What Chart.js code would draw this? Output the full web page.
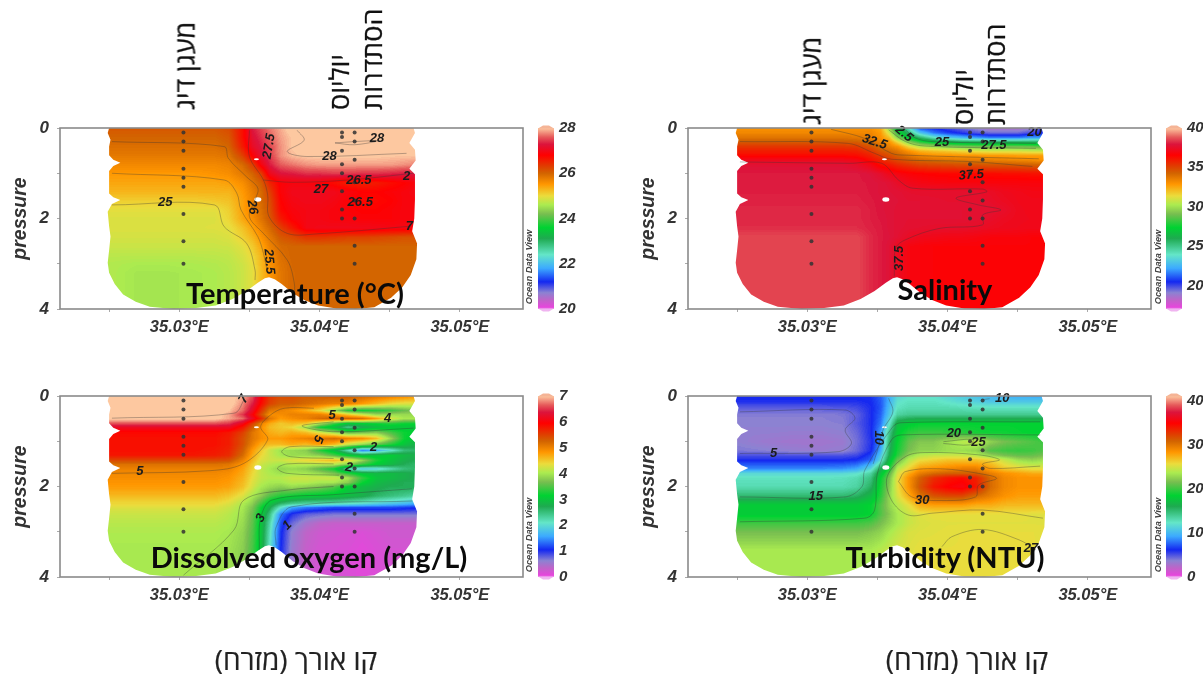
<!DOCTYPE html>
<html>
<head>
<meta charset="utf-8">
<title>CTD sections</title>
<script src="https://cdn.jsdelivr.net/npm/chart.js@4"></script>
<style>
    html, body { margin: 0; padding: 0; background: #fff; overflow: hidden; }
    #page { position: relative; width: 1203px; height: 674px; overflow: hidden; filter: blur(0.45px); }
    #page canvas { position: absolute; }
    .txt { position: absolute; white-space: nowrap; transform: translate(-50%, -50%); }
    .title { font: 700 29px Lato, "Open Sans", sans-serif; color: #0a0a0a; }
    .place { font: 400 27px "Open Sans", "DejaVu Sans", sans-serif; color: #111; -webkit-text-stroke: 0.3px #111; transform: rotate(-90deg) translateY(-50%); transform-origin: 0 0; }
    .lonlabel { font: 400 28px "Open Sans", "DejaVu Sans", sans-serif; color: #222; -webkit-text-stroke: 0.2px #222; }
    .odv { font: italic 700 9.3px "Liberation Sans", sans-serif; color: #444; transform: translate(-50%, -50%) rotate(-90deg); }
</style>
</head>
<body>
<div id="page"></div>
<script>
// x axis unit: thousandths of a degree past 35°E
const lonTicks = [25, 30, 35, 40, 45, 50];
const depthTicks = [0, 1, 2, 3, 4];

const gridLons = [25, 27, 29, 31, 32.5, 33.5, 34.5, 35.2, 35.8, 36.4, 37.2, 38, 39, 40, 41, 42, 43, 44, 45, 46, 46.8];

// Sample stations: [lon, depth]
const stations = [
    [30.3, 0.1], [30.3, 0.3], [30.3, 0.5], [30.3, 0.9], [30.3, 1.1], [30.3, 1.3], [30.3, 1.9], [30.3, 2.5], [30.3, 3.0],
    [41.6, 0.1], [41.6, 0.2], [41.6, 0.5], [41.6, 0.8], [41.6, 1.0], [41.6, 1.4], [41.6, 1.8], [41.6, 2.0],
    [42.5, 0.1], [42.5, 0.3], [42.5, 0.7], [42.5, 1.2], [42.5, 1.6], [42.5, 2.0], [42.5, 2.6], [42.5, 3.0]
];

// Outline of the gridded area, same for all four sections
const outline = [
    [25.0, 0], [24.9, 0.11], [25.1, 0.26], [25.0, 0.41], [25.0, 0.6], [25.3, 0.7], [25.8, 0.77], [25.3, 0.84], [25.0, 0.95], [25.0, 1.45], [25.3, 1.53], [25.8, 1.59],
    [25.2, 1.68], [24.9, 1.85], [25.0, 2.17], [25.1, 2.4], [25.0, 2.7], [24.9, 2.98], [25.0, 3.2], [25.4, 3.45], [26.0, 3.68], [26.9, 3.84], [27.9, 3.95], [29.6, 4],
    [31.2, 3.98], [32.6, 3.92], [33.8, 3.78], [34.8, 3.6], [35.6, 3.42], [36.1, 3.32], [36.4, 3.3], [36.8, 3.34], [37.3, 3.45], [38.1, 3.65], [38.9, 3.8], [39.9, 3.92], [41.2, 3.99], [42.6, 4],
    [43.9, 3.96], [45.1, 3.75], [45.9, 3.52], [46.5, 3.25], [46.9, 2.9], [46.95, 2.55], [46.6, 2.28], [46.75, 2], [46.8, 1.58], [46.8, 1.02], [46.4, 0.9], [46.85, 0.72], [46.8, 0.48],
    [46.4, 0.33], [46.8, 0.11], [46.7, 0]
];
const holes = [[35.5, 0.69, 2.5, 1], [35.6, 1.58, 3.5, 2.2]];

// Palette stops of the colour bar: [position 0..1, r, g, b]
const paletteStops = [
    [0, 235, 130, 232], [0.01, 230, 70, 220], [0.05, 190, 100, 200], [0.09, 140, 130, 210], [0.15, 20, 40, 240],
    [0.225, 60, 170, 255], [0.30, 100, 230, 200], [0.39, 30, 170, 80], [0.45, 0, 210, 50], [0.525, 120, 190, 80],
    [0.575, 170, 235, 80], [0.625, 235, 220, 60], [0.69, 255, 150, 0], [0.75, 210, 100, 0], [0.79, 225, 60, 0],
    [0.85, 255, 0, 0], [0.91, 220, 20, 60], [0.95, 230, 90, 90], [1, 253, 200, 160]
];

//#region --- Temperature ---
const tempDepths = [0, 0.2, 0.4, 0.6, 0.8, 1, 1.2, 1.4, 1.6, 1.8, 2, 2.2, 2.4, 2.6, 2.8, 3, 3.2, 3.4, 3.6, 3.8, 4];
const tempGrid = [
    [26.1, 26.1, 26.1, 26.1, 26.1, 26.2, 26.7, 27.3, 27.5, 27.7, 27.9, 28.1, 28.2, 28.2, 28.2, 28.2, 28.2, 28.2, 28.2, 28.2, 28.2],
    [26, 26, 26, 26, 26, 26.1, 26.7, 27.2, 27.4, 27.6, 27.85, 28, 28.15, 28.2, 28.2, 28.25, 28.25, 28.25, 28.2, 28.2, 28.2],
    [25.9, 25.9, 25.9, 25.9, 25.9, 26, 26.6, 27.1, 27.3, 27.5, 27.8, 28, 28.1, 28.15, 28.15, 28.15, 28.15, 28.15, 28.15, 28.15, 28.1],
    [25.8, 25.8, 25.8, 25.8, 25.8, 25.85, 26.3, 26.85, 27.2, 27.45, 27.8, 27.95, 28.02, 28.03, 28.03, 28.03, 28.03, 28.03, 28, 28, 28],
    [25.65, 25.65, 25.65, 25.65, 25.65, 25.7, 25.95, 26.3, 26.9, 27.3, 27.6, 27.7, 27.8, 27.85, 27.85, 27.85, 27.85, 27.85, 27.85, 27.8, 27.75],
    [25.5, 25.5, 25.5, 25.5, 25.55, 25.6, 25.8, 26, 26.3, 27, 27.25, 27.3, 27.4, 27.4, 27.45, 27.45, 27.4, 27.4, 27.35, 27.3, 27.3],
    [25.4, 25.4, 25.4, 25.4, 25.4, 25.45, 25.6, 25.85, 26.05, 26.5, 26.85, 26.9, 26.9, 26.85, 26.7, 26.55, 26.55, 26.6, 26.7, 26.8, 26.9],
    [25.3, 25.3, 25.3, 25.3, 25.3, 25.3, 25.5, 25.75, 25.95, 26.3, 26.85, 27, 27, 27.05, 27, 26.9, 26.8, 26.8, 26.85, 26.9, 26.95],
    [25.1, 25.1, 25.1, 25.1, 25.15, 25.2, 25.45, 25.7, 25.95, 26.2, 26.8, 26.95, 27, 27, 26.95, 26.85, 26.75, 26.75, 26.8, 26.9, 26.9],
    [24.95, 24.95, 24.95, 24.95, 24.95, 25.1, 25.45, 25.7, 25.9, 26.15, 26.75, 26.9, 26.95, 26.95, 26.9, 26.85, 26.8, 26.8, 26.85, 26.9, 26.9],
    [24.9, 24.9, 24.9, 24.9, 24.9, 25.05, 25.4, 25.6, 25.85, 26.1, 26.6, 26.85, 26.95, 26.95, 26.9, 26.9, 26.85, 26.85, 26.85, 26.9, 26.9],
    [24.9, 24.9, 24.9, 24.9, 24.92, 24.95, 25.2, 25.45, 25.7, 25.95, 26.3, 26.6, 26.95, 27, 27, 27, 27, 26.98, 26.95, 26.95, 26.9],
    [24.85, 24.85, 24.85, 24.85, 24.85, 24.9, 25.1, 25.3, 25.55, 25.8, 26.1, 26.2, 26.4, 26.4, 26.35, 26.3, 26.3, 26.25, 26.2, 26.15, 26.15],
    [24.8, 24.8, 24.8, 24.8, 24.8, 24.82, 24.95, 25.15, 25.4, 25.7, 25.95, 26, 26, 26, 26, 26, 26, 26, 26, 26, 26],
    [24.7, 24.7, 24.7, 24.7, 24.72, 24.75, 24.88, 25.05, 25.3, 25.6, 25.9, 26, 26, 26, 26, 26, 26, 26, 26, 26, 26],
    [24.65, 24.6, 24.6, 24.62, 24.65, 24.7, 24.82, 24.98, 25.25, 25.55, 25.85, 25.98, 26, 26, 26, 26, 26, 26, 26, 26, 26],
    [24.65, 24.55, 24.55, 24.58, 24.62, 24.68, 24.8, 24.95, 25.22, 25.52, 25.82, 25.97, 26, 26, 26, 26, 26, 26, 26, 26, 26],
    [24.65, 24.55, 24.55, 24.58, 24.62, 24.68, 24.8, 24.95, 25.22, 25.52, 25.82, 25.97, 26, 26, 26, 26, 26, 26, 26, 26, 26],
    [24.65, 24.55, 24.55, 24.58, 24.62, 24.68, 24.8, 24.95, 25.22, 25.52, 25.82, 25.97, 26, 26, 26, 26, 26, 26, 26, 26, 26],
    [24.65, 24.55, 24.55, 24.58, 24.62, 24.68, 24.8, 24.95, 25.22, 25.52, 25.82, 25.97, 26, 26, 26, 26, 26, 26, 26, 26, 26],
    [24.65, 24.55, 24.55, 24.58, 24.62, 24.68, 24.8, 24.95, 25.22, 25.52, 25.82, 25.97, 26, 26, 26, 26, 26, 26, 26, 26, 26]
];
const tempContours = [
    [[25.2, 0.3], [33.2, 0.41], [33.5, 0.67], [34.8, 1.08], [35.6, 1.33], [35.4, 1.59], [35, 1.96], [36, 2.33], [37.7, 2.92], [38.2, 3.43], [38.2, 3.7]],
    [[25.2, 1], [33.2, 1.15], [34.1, 1.44], [34.4, 1.81], [35.6, 2.4], [36, 2.77], [36.3, 3.21]],
    [[25.2, 1.7], [32.5, 1.7], [33.2, 2.18], [34.8, 2.55], [35.4, 3.14], [35.4, 3.36]],
    [[35, 0.05], [35, 0.63], [36, 1.15], [36.3, 1.48], [36.4, 1.96], [37.7, 2.33], [39.8, 2.34], [46.5, 2.17]],
    [[36, 1.15], [38, 1.2], [42, 1.15], [46.7, 1]],
    [[38.4, 0.05], [38.9, 0.27], [37.7, 0.52], [39.1, 0.63], [46.2, 0.56]],
    [[41.1, 0.33], [42.5, 0.3], [44.2, 0.28], [42.5, 0.37], [41.1, 0.33]]
];
const tempLabels = [
    ["25", 29, 1.65, 0], ["26", 35.2, 1.75, 80], ["25.5", 36.4, 2.95, 85], ["27.5", 36.4, 0.4, -80], ["28", 44.1, 0.24, 0],
    ["28", 40.7, 0.63, 0], ["26.5", 42.8, 1.15, 0], ["27", 40.1, 1.35, 0], ["26.5", 42.9, 1.65, 0], ["2", 46.2, 1.07, 0], ["7", 46.4, 2.17, 0]
];
//#endregion

//#region --- Salinity ---
const salDepths = [0, 0.1, 0.2, 0.3, 0.4, 0.5, 0.6, 0.7, 0.8, 1, 1.2, 1.4, 1.6, 1.8, 2, 2.2, 2.4, 2.6, 3, 4];
const salGrid = [
    [33, 33, 33, 33, 33, 33, 33, 32.5, 30, 27, 24, 21, 20.5, 20, 19.5, 19, 18.5, 18.5, 18.5, 19, 20],
    [33.3, 33.3, 33.3, 33.3, 33.3, 33.3, 33.3, 32.8, 31, 28, 25.5, 23, 21.5, 20.8, 20.3, 19.8, 19.5, 19.5, 19.5, 20, 20.5],
    [33.8, 33.8, 33.8, 33.8, 33.8, 33.7, 33.5, 33, 32, 29.5, 27, 25.5, 24, 23, 22.5, 22, 21.5, 21.5, 21.5, 22, 22],
    [34.5, 34.5, 34.5, 34.5, 34.5, 34.4, 34, 33.5, 33, 31.5, 29.5, 28, 27, 26.5, 26, 26, 25.8, 25.8, 25.8, 25.8, 25.8],
    [35.3, 35.3, 35.3, 35.3, 35.3, 35.2, 34.6, 34, 33.5, 33, 31.5, 30.5, 30, 29.5, 29.2, 29, 29, 29, 29, 28.8, 28.5],
    [35.9, 35.9, 35.9, 35.9, 35.9, 35.8, 35.3, 34.6, 34.2, 33.8, 33, 32.3, 32, 31.8, 31.5, 31.2, 31, 31, 31, 30.8, 30.8],
    [36.4, 36.4, 36.4, 36.4, 36.4, 36.3, 35.8, 35.2, 34.8, 34.3, 33.8, 33.3, 33, 33, 32.9, 32.9, 32.8, 32.8, 32.7, 32.7, 32.7],
    [37.2, 37.2, 37.2, 37.2, 37.2, 37, 36.3, 35.8, 35.3, 34.9, 34.5, 34.2, 34, 33.8, 33.7, 33.6, 33.5, 33.4, 33.3, 33.2, 33],
    [37.7, 37.7, 37.7, 37.7, 37.7, 37.5, 37, 36.3, 36, 35.6, 35.3, 35, 34.9, 34.8, 34.7, 34.6, 34.5, 34.5, 34.4, 34.3, 34.2],
    [38, 38, 38, 38, 38, 38, 37.85, 37.55, 37.15, 36.9, 36.7, 36.6, 36.5, 36.45, 36.4, 36.4, 36.35, 36.3, 36.3, 36.2, 36.2],
    [38, 38, 38, 38, 38, 38, 37.95, 37.85, 37.75, 37.45, 37.15, 37, 36.9, 36.85, 36.85, 36.85, 36.8, 36.8, 36.8, 36.8, 36.8],
    [38.05, 38.05, 38.05, 38.05, 38.05, 38.05, 37.95, 37.85, 37.8, 37.75, 37.6, 37.55, 37.55, 37.55, 37.55, 37.55, 37.4, 37.2, 37.1, 37, 37],
    [38.1, 38.1, 38.1, 38.1, 38.1, 38.1, 38, 37.9, 37.85, 37.8, 37.7, 37.7, 37.65, 37.6, 37.6, 37.6, 37.5, 37.3, 37.15, 37.1, 37.1],
    [38.2, 38.2, 38.2, 38.2, 38.2, 38.2, 38.05, 37.9, 37.85, 37.75, 37.7, 37.7, 37.7, 37.7, 37.7, 37.7, 37.65, 37.5, 37.2, 37.1, 37.1],
    [38.2, 38.2, 38.2, 38.2, 38.2, 38.2, 38.05, 37.95, 37.85, 37.75, 37.7, 37.7, 37.7, 37.7, 37.7, 37.65, 37.5, 37.3, 37.2, 37.15, 37.1],
    [38.25, 38.25, 38.25, 38.25, 38.25, 38.25, 38.1, 38, 37.85, 37.75, 37.65, 37.6, 37.55, 37.55, 37.5, 37.45, 37.3, 37.2, 37.15, 37.1, 37.1],
    [38.6, 38.6, 38.6, 38.6, 38.6, 38.6, 38.2, 38, 37.9, 37.7, 37.4, 37.2, 37.1, 37, 37, 36.9, 36.8, 36.8, 36.8, 36.7, 36.7],
    [38.6, 38.6, 38.6, 38.6, 38.6, 38.6, 38.2, 38, 37.8, 37.3, 36.9, 36.8, 36.7, 36.7, 36.7, 36.7, 36.7, 36.7, 36.7, 36.7, 36.7],
    [38.6, 38.6, 38.6, 38.6, 38.6, 38.6, 38.2, 38, 37.8, 37.3, 36.9, 36.8, 36.7, 36.7, 36.7, 36.7, 36.7, 36.7, 36.7, 36.7, 36.7],
    [38.6, 38.6, 38.6, 38.6, 38.6, 38.6, 38.2, 38, 37.8, 37.3, 36.9, 36.8, 36.7, 36.7, 36.7, 36.7, 36.7, 36.7, 36.7, 36.7, 36.7]
];
const salContours = [
    [[25.2, 0.3], [32.9, 0.34], [34.8, 0.56], [36, 0.69], [41.5, 0.74], [46.05, 0.85]],
    [[31.7, 0.03], [34.1, 0.23], [36, 0.56], [37, 0.6], [46.5, 0.68]],
    [[35.8, 0.04], [37, 0.3], [38.4, 0.4], [46.3, 0.45]],
    [[37, 0.04], [37.7, 0.22], [38.9, 0.3], [46.3, 0.34]],
    [[25.2, 0.75], [33, 0.78], [35.3, 0.78], [36.5, 1.15], [37.5, 1.33], [42.5, 1.35], [42.8, 1.41], [40.6, 1.55], [42.2, 1.7], [43.8, 1.81], [42.5, 1.92], [42.5, 2.14], [39.4, 2.22], [37, 2.47], [36.3, 2.66], [36.2, 3.28]]
];
const salLabels = [
    ["2.5", 36.9, 0.13, 40], ["32.5", 34.8, 0.31, 18], ["25", 39.6, 0.31, 0], ["27.5", 43.3, 0.39, 0], ["20", 46.2, 0.1, 0],
    ["37.5", 41.7, 1.04, -5], ["37.5", 36.6, 2.88, -90]
];
//#endregion

//#region --- Dissolved oxygen ---
const oxyDepths = [0, 0.16, 0.31, 0.4, 0.49, 0.6, 0.68, 0.8, 0.93, 1.06, 1.19, 1.3, 1.41, 1.5, 1.6, 1.7, 1.8, 1.9, 2, 2.2, 2.37, 2.45, 2.6, 2.8, 3, 3.4, 4];
const oxyGrid = [
    [7.2, 7.2, 7.2, 7.2, 7.2, 7.1, 6.9, 6.6, 6, 5.6, 5.4, 5.4, 5.3, 5.3, 5.3, 5.3, 5.2, 5.1, 5, 4.9, 4.8],
    [7.2, 7.2, 7.2, 7.2, 7.2, 7.1, 6.8, 6.4, 5.9, 5.5, 5.3, 5.3, 5.2, 5.1, 5, 5, 4.8, 4.6, 4.4, 4.3, 4.3],
    [7.2, 7.2, 7.2, 7.2, 7.15, 7, 6.7, 6.2, 5.6, 5.1, 5, 4.9, 4.7, 4.4, 3.9, 3.3, 3.2, 3.3, 3.4, 3.6, 3.7],
    [7.2, 7.2, 7.2, 7.2, 7.1, 6.9, 6.5, 6, 5.4, 4.9, 4.9, 5, 5, 5, 4.8, 4.5, 4.2, 3.9, 3.9, 3.9, 3.9],
    [7.05, 7.05, 7.05, 7.05, 7.05, 6.9, 6.7, 6.2, 5.7, 5.1, 4.8, 4.9, 5, 5.2, 5.3, 5.3, 5.2, 4.8, 4.3, 4, 4],
    [6.6, 6.6, 6.6, 6.6, 6.6, 6.5, 6.1, 5.5, 5, 4.7, 4.5, 4.6, 4.5, 4, 3.4, 3, 3.1, 3.2, 3.3, 3.2, 3.2],
    [6.2, 6.2, 6.2, 6.2, 6.2, 6.2, 5.8, 5.3, 4.9, 4.6, 4.5, 4.4, 4, 3.2, 2.9, 2.4, 2.7, 2.9, 3, 3, 3],
    [5.9, 5.9, 5.9, 5.9, 5.9, 5.8, 5.5, 5.1, 4.9, 4.7, 4.6, 4.7, 4.6, 4.3, 4, 3.6, 3.7, 3.8, 3.5, 3.2, 3.1],
    [5.85, 5.85, 5.85, 5.85, 5.85, 5.75, 5.4, 5.1, 4.9, 4.8, 4.8, 4.9, 5, 5.1, 5.2, 5, 4.9, 4.6, 3.9, 3.2, 3],
    [5.85, 5.85, 5.85, 5.85, 5.85, 5.75, 5.4, 5, 4.7, 4.6, 4.6, 4.7, 4.6, 4.8, 4.6, 4.2, 3.9, 3.6, 3.3, 3, 2.8],
    [5.85, 5.85, 5.85, 5.85, 5.8, 5.7, 5.3, 4.8, 4.5, 4.2, 3.95, 3.9, 3.8, 3.3, 2.9, 2.2, 1.4, 1.6, 2, 2.5, 2.6],
    [5.8, 5.8, 5.8, 5.8, 5.75, 5.65, 5.2, 4.7, 4.4, 4.2, 4, 3.9, 3.9, 3.8, 3.5, 3.1, 2.9, 3, 3.1, 2.9, 2.8],
    [5.45, 5.45, 5.45, 5.45, 5.45, 5.4, 5, 4.6, 4.3, 4.2, 4.2, 4.3, 4.4, 4.5, 4.6, 4.4, 3.9, 3.3, 3, 2.8, 2.7],
    [5.15, 5.15, 5.15, 5.15, 5.15, 5.1, 4.85, 4.5, 4.2, 4.1, 4, 4.1, 4.1, 4.1, 4.1, 3.8, 3.4, 3.1, 2.9, 2.7, 2.6],
    [5, 5, 5, 5, 5, 5, 4.75, 4.45, 4.15, 4, 3.85, 3.9, 3.8, 3.5, 3.2, 2.2, 1.8, 1.9, 2.2, 2.5, 2.6],
    [4.95, 4.95, 4.95, 4.95, 4.95, 4.9, 4.7, 4.4, 4.15, 4.05, 3.95, 4, 4, 3.9, 3.7, 3.3, 3, 2.9, 2.9, 2.8, 2.7],
    [4.9, 4.9, 4.9, 4.9, 4.9, 4.85, 4.65, 4.35, 4.15, 4.1, 4.1, 4.2, 4.2, 4.2, 4.2, 4, 3.4, 3, 2.9, 2.8, 2.7],
    [4.85, 4.85, 4.85, 4.85, 4.85, 4.8, 4.6, 4.3, 4.1, 4, 4, 4.1, 4.1, 4, 4, 3.8, 3.2, 2.9, 2.8, 2.7, 2.7],
    [4.8, 4.8, 4.8, 4.8, 4.8, 4.75, 4.55, 4.25, 4, 3.9, 3.8, 3.9, 3.8, 3.7, 3.5, 3.1, 2.9, 2.8, 2.7, 2.7, 2.7],
    [4.6, 4.6, 4.6, 4.6, 4.6, 4.5, 4.3, 4, 3.8, 3.5, 3.3, 3.2, 3.1, 3.05, 3, 2.9, 2.8, 2.6, 2.5, 2.4, 2.3],
    [4.4, 4.4, 4.4, 4.4, 4.4, 4.3, 4.05, 3.8, 3.4, 3, 2.6, 2.4, 2.3, 2.25, 2.2, 2.1, 2, 1.9, 1.8, 1.7, 1.6],
    [4.3, 4.3, 4.3, 4.3, 4.3, 4.2, 4, 3.7, 3.2, 2.8, 2.1, 1.6, 1.4, 1.3, 1.2, 1.2, 1.2, 1.2, 1.2, 1.15, 1.1],
    [4.2, 4.2, 4.2, 4.2, 4.2, 4.1, 3.95, 3.6, 3.1, 2.5, 1.4, 1, 0.8, 0.75, 0.7, 0.7, 0.7, 0.7, 0.7, 0.7, 0.7],
    [4.1, 4.1, 4.1, 4.1, 4.1, 4.05, 3.9, 3.55, 3, 2.3, 1.2, 0.75, 0.5, 0.35, 0.3, 0.3, 0.3, 0.3, 0.3, 0.3, 0.3],
    [4.05, 4.05, 4.05, 4.05, 4.05, 4, 3.85, 3.5, 3, 2.2, 1.1, 0.6, 0.35, 0.25, 0.22, 0.2, 0.15, 0.2, 0.25, 0.25, 0.25],
    [4, 4, 4, 4, 4, 3.95, 3.8, 3.45, 2.95, 2.1, 1.05, 0.55, 0.3, 0.2, 0.18, 0.15, 0.1, 0.15, 0.2, 0.2, 0.2],
    [4, 4, 4, 4, 4, 3.95, 3.8, 3.45, 2.95, 2.1, 1.05, 0.55, 0.3, 0.2, 0.18, 0.15, 0.1, 0.15, 0.2, 0.2, 0.2]
];
const oxyContours = [
    [[25.2, 1.71], [32.2, 1.65], [34.6, 1.49], [36.3, 0.97], [35.8, 0.68], [36.5, 0.42], [37.5, 0.27], [39.6, 0.27]],
    [[25.2, 0.49], [33.9, 0.38], [34.6, 0.09], [34.6, 0.02]],
    [[30.3, 3.96], [33.9, 2.96], [34.6, 2.3], [37.7, 2.08], [41, 2]],
    [[41, 1.12], [37.9, 1.12], [37.3, 1.23], [37.9, 1.34], [41, 1.38]],
    [[41, 1.5], [37.7, 1.5], [37, 1.6], [37.7, 1.71], [41.4, 1.75]],
    [[41, 0.57], [38.75, 0.66], [41, 0.79], [46.7, 0.71]],
    [[35.7, 3.4], [35.8, 2.7], [36.6, 2.3], [41, 2.18], [46.6, 2.05]],
    [[36.9, 3.3], [36.9, 2.9], [38, 2.45], [46.6, 2.32]]
];
const oxyLabels = [
    ["7", 34.6, 0.07, -60], ["5", 27.2, 1.67, 0], ["5", 40.9, 0.43, 0], ["4", 44.85, 0.49, 0], ["5", 39.9, 0.95, 110],
    ["2", 43.85, 1.14, 0], ["2", 42.1, 1.58, 10], ["3", 35.8, 2.7, -60], ["1", 37.7, 2.86, -45]
];
//#endregion

//#region --- Turbidity ---
const turbDepths = [0, 0.1, 0.25, 0.4, 0.6, 0.8, 1, 1.2, 1.3, 1.4, 1.6, 1.7, 1.8, 2, 2.2, 2.4, 2.6, 2.8, 3, 3.4, 4];
const turbGrid = [
    [6.2, 6.2, 6.2, 6.2, 6.2, 6.2, 6.4, 7.5, 9.5, 11.5, 12, 12, 12, 11.5, 11, 10.5, 10, 9.8, 9.6, 9.5, 9.5],
    [6, 6, 6, 6, 6, 6, 6.2, 7.3, 9.5, 12, 12.5, 12.5, 12.5, 12, 11.5, 11, 10.5, 10.5, 10.5, 10.5, 10.5],
    [4.8, 4.8, 4.8, 4.8, 4.9, 5.2, 6, 7.2, 10, 12.5, 13, 13, 13, 13, 12.8, 12.6, 12.5, 12.5, 12.5, 12.5, 12.5],
    [3.8, 3.8, 3.8, 3.8, 4, 4.6, 6, 7.5, 10.5, 13.5, 14, 14, 14, 14, 14, 14, 14, 14, 14, 14, 14],
    [3.7, 3.7, 3.7, 3.7, 3.8, 4.8, 6, 8, 12, 17, 18, 18.5, 18.5, 18.5, 18.5, 18.5, 18.5, 18.5, 18.5, 18.5, 18.5],
    [3.5, 3.5, 3.4, 3.4, 3.6, 4.4, 6, 9, 14, 18, 19.5, 20, 20, 19.8, 19.5, 19, 18.8, 18.8, 18.6, 18.5, 18.5],
    [3.6, 3.2, 3, 3, 3.2, 4.2, 5.8, 8.5, 15, 18.5, 21, 22, 22, 23, 24, 24.5, 22.5, 21.5, 21, 20.5, 20],
    [4, 3.8, 3.5, 3.3, 3.5, 4.4, 6, 9.5, 15.5, 19, 21.5, 22.5, 22.5, 23, 23, 22.5, 20.5, 20, 19.8, 20, 20.5],
    [5, 5, 5, 5, 5, 5.3, 6.8, 10.5, 16, 19.5, 22.5, 24, 24.5, 24.5, 24.5, 24, 22.5, 21.5, 21, 21, 21.5],
    [6, 6, 6, 6, 6, 6.3, 7.5, 11.5, 17, 21, 24, 25.5, 26, 26.5, 26.5, 26.5, 26, 24.5, 23, 22.5, 23],
    [8.5, 8.5, 8.5, 8.5, 8.7, 9.3, 11.5, 16, 19, 24, 26, 28, 28.5, 29, 29.5, 29.5, 28, 26.5, 26, 25.5, 25.5],
    [11.5, 11.5, 11.5, 11.5, 11.6, 12, 13.5, 17.5, 20.5, 25, 27.5, 29.5, 30.5, 31, 31, 31, 29.5, 28.5, 28, 27.5, 27.5],
    [12.5, 12.5, 12.5, 12.5, 12.6, 13, 14.5, 18.5, 21.5, 25.5, 28.5, 31, 33, 34, 34.5, 33.5, 30.5, 29, 28.5, 28.5, 28.5],
    [13, 13, 13, 13, 13, 13.5, 15.5, 19, 22, 25.5, 28.5, 31.5, 34, 35, 35.5, 34, 30.5, 29, 28.5, 28.5, 28.5],
    [15, 15, 15, 15, 15, 15.5, 17, 19.5, 22.5, 25, 27.5, 30, 31.5, 32, 32, 30.5, 29.5, 28.5, 28, 28, 28],
    [18, 18, 18, 18, 18, 18, 18.5, 20.5, 22.5, 24, 25.5, 27.5, 28, 28, 28, 27.5, 27.5, 27, 27, 27, 27],
    [18, 18, 18, 18, 18, 18, 18.5, 20.5, 22, 23.5, 24.5, 25.2, 25.5, 25.5, 25.5, 25.5, 25.5, 25.5, 25.5, 25.3, 25.2],
    [20, 20, 20, 20, 20, 20, 20.5, 21.5, 22.5, 23.5, 24.5, 25, 25.2, 25.3, 25.3, 25.3, 25.3, 25.3, 25.3, 25.3, 25.3],
    [21.5, 21.5, 21.5, 21.5, 21.5, 21.5, 22, 22.5, 23.5, 24.2, 25, 25.2, 25.3, 25.4, 25.5, 25.5, 25.5, 25.5, 25.5, 25.5, 25.4],
    [23.5, 23.5, 23.5, 23.5, 23.5, 23.5, 23.5, 24, 24.5, 25, 25.2, 25.5, 25.5, 25.5, 25.5, 25.5, 25.5, 25.5, 25.5, 25.5, 25.5],
    [23.5, 23.5, 23.5, 23.5, 23.5, 23.5, 23.5, 24, 24.5, 25, 25.2, 25.5, 25.5, 25.5, 25.5, 25.5, 25.5, 25.5, 25.5, 25.5, 25.5]
];
const turbContours = [
    [[25.2, 0.35], [32.7, 0.31], [33.4, 0.49], [32.7, 0.75], [33.15, 1.05], [32.2, 1.23], [25.2, 1.27]],
    [[35.8, 0.05], [36.1, 0.35], [35.4, 0.75], [35, 1.2], [34.7, 1.5]],
    [[25.2, 2.23], [32.7, 2.23], [33.9, 2], [34.1, 1.64], [36.1, 0.68], [36.7, 0.59], [46.6, 0.57]],
    [[25.2, 2.78], [34.1, 2.7], [34.8, 2.52], [35, 1.71], [36, 0.97], [36.7, 0.86], [46.6, 0.86]],
    [[46.6, 1.55], [43, 1.6], [42.5, 1.5], [43.7, 1.41], [42.2, 1.3], [38.4, 1.25], [37, 1.34], [35.7, 1.78], [36, 2.3], [37.2, 2.63], [38.9, 2.59], [42.5, 2.52], [46.8, 2.7]],
    [[36.5, 1.89], [37, 1.67], [39.6, 1.61], [42.2, 1.71], [43.5, 1.82], [42.2, 1.97], [42, 2.23], [39.6, 2.31], [37.45, 2.23], [36.5, 1.89]],
    [[39.7, 1.01], [41.8, 0.96], [41.6, 1.08], [39.7, 1.05]],
    [[39.6, 3.33], [40.3, 3.11], [42.5, 2.95], [45.1, 3.18], [46.3, 3.4]],
    [[42.5, 0.08], [43, 0.06]]
];
const turbLabels = [
    ["10", 43.9, 0.05, 0], ["10", 35.1, 0.92, 90], ["5", 27.6, 1.27, 0], ["20", 40.45, 0.82, 0], ["25", 42.2, 1.03, 0],
    ["15", 30.6, 2.21, 0], ["30", 38.2, 2.31, 0], ["27", 45.95, 3.37, 0]
];
//#endregion

function buildPalette() {
    const lut = [];
    for (let i = 0; i <= 255; i++) {
        const t = i / 255;
        let k = 0;
        while (k < paletteStops.length - 2 && paletteStops[k + 1][0] < t) k++;
        const a = paletteStops[k], b = paletteStops[k + 1];
        const f = Math.min(1, Math.max(0, (t - a[0]) / (b[0] - a[0])));
        lut.push([a[1] + (b[1] - a[1]) * f, a[2] + (b[2] - a[2]) * f, a[3] + (b[3] - a[3]) * f]);
    }
    return lut;
}
const paletteLut = buildPalette();

function findCell(nodes, v) {
    let i = 0;
    while (i < nodes.length - 2 && nodes[i + 1] < v) i++;
    const f = Math.min(1, Math.max(0, (v - nodes[i]) / (nodes[i + 1] - nodes[i])));
    return [i, f];
}

// Paints the gridded section under the stations, through the chart's scales
const fieldPlugin = {
    id: "field",
    beforeDatasetsDraw(chart, args, opts) {
        const { ctx, chartArea: area, scales } = chart;
        const left = Math.round(area.left), top = Math.round(area.top);
        const w = Math.round(area.right - area.left), h = Math.round(area.bottom - area.top);
        const off = document.createElement("canvas");
        off.width = w; off.height = h;
        const octx = off.getContext("2d");
        const img = octx.createImageData(w, h);
        for (let py = 0; py < h; py++) {
            const [r, fr] = findCell(opts.depths, scales.y.getValueForPixel(top + py));
            for (let px = 0; px < w; px++) {
                const [c, fc] = findCell(gridLons, scales.x.getValueForPixel(left + px));
                const g = opts.grid;
                const v = (g[r][c] * (1 - fc) + g[r][c + 1] * fc) * (1 - fr) + (g[r + 1][c] * (1 - fc) + g[r + 1][c + 1] * fc) * fr;
                const t = Math.min(1, Math.max(0, (v - opts.vmin) / (opts.vmax - opts.vmin)));
                const col = paletteLut[Math.round(t * 255)];
                const p = (py * w + px) * 4;
                img.data[p] = col[0]; img.data[p + 1] = col[1]; img.data[p + 2] = col[2]; img.data[p + 3] = 255;
            }
        }
        octx.putImageData(img, 0, 0);

        ctx.save();
        ctx.beginPath();
        outline.forEach((p, i) => {
            const x = scales.x.getPixelForValue(p[0]), y = scales.y.getPixelForValue(p[1]);
            if (i === 0) ctx.moveTo(x, y); else ctx.lineTo(x, y);
        });
        ctx.closePath();
        ctx.clip();
        ctx.drawImage(off, left, top);
        ctx.fillStyle = "#fff";
        holes.forEach(p => {
            ctx.beginPath();
            ctx.ellipse(scales.x.getPixelForValue(p[0]), scales.y.getPixelForValue(p[1]), p[2], p[3], 0, 0, Math.PI * 2);
            ctx.fill();
        });
        ctx.restore();
    },
    afterDatasetsDraw(chart, args, opts) {
        const { ctx, chartArea: area, scales } = chart;
        ctx.save();
        ctx.font = "italic 700 13px 'Liberation Sans', sans-serif";
        ctx.fillStyle = "#1c1c1c";
        ctx.textAlign = "center";
        ctx.textBaseline = "middle";
        opts.labels.forEach(l => {
            ctx.save();
            ctx.translate(scales.x.getPixelForValue(l[1]), scales.y.getPixelForValue(l[2]));
            ctx.rotate(l[3] * Math.PI / 180);
            ctx.fillText(l[0], 0, 0);
            ctx.restore();
        });
        ctx.strokeStyle = "#8a8a8a";
        ctx.lineWidth = 1.6;
        ctx.strokeRect(area.left, area.top, area.right - area.left, area.bottom - area.top);
        ctx.restore();
    }
};

function drawSection(id, left, top, section) {
    const canvas = document.createElement("canvas");
    canvas.id = id;
    canvas.width = 532; canvas.height = 240;
    canvas.style.left = left + "px";
    canvas.style.top = top + "px";
    document.getElementById("page").appendChild(canvas);

    const contourSets = section.contours.map(line => ({
        type: "scatter",
        data: line.map(p => ({ x: p[0], y: p[1] })),
        showLine: true,
        tension: 0.35,
        borderColor: "rgba(55, 55, 55, 0.35)",
        borderWidth: 1,
        pointRadius: 0,
        order: 2
    }));
    const stationSet = {
        type: "scatter",
        data: stations.map(p => ({ x: p[0], y: p[1] })),
        backgroundColor: "rgba(50, 50, 50, 0.85)",
        borderWidth: 0,
        pointRadius: 2,
        order: 1
    };

    new Chart(canvas.getContext("2d"), {
        type: "scatter",
        data: { datasets: contourSets.concat([stationSet]) },
        options: {
            responsive: false,
            animation: false,
            layout: { padding: { top: 28, right: 9, bottom: 0, left: 0 } },
            plugins: {
                legend: { display: false },
                tooltip: { enabled: false },
                field: { grid: section.grid, depths: section.depths, vmin: section.vmin, vmax: section.vmax, labels: section.labels }
            },
            scales: {
                x: {
                    type: "linear", min: 21.5, max: 54.5,
                    afterBuildTicks: axis => { axis.ticks = lonTicks.map(v => ({ value: v })); },
                    afterFit: axis => { axis.height = 31; },
                    grid: { drawOnChartArea: false, tickLength: 3, color: "#aaa" },
                    border: { display: false },
                    ticks: {
                        autoSkip: false, maxRotation: 0, padding: 6, color: "#333",
                        font: { family: "Liberation Sans", size: 16.5, weight: "bold", style: "italic" },
                        callback: v => v % 10 === 0 ? (35 + v / 1000).toFixed(2) + "°E" : ""
                    }
                },
                y: {
                    type: "linear", min: 0, max: 4, reverse: true,
                    afterBuildTicks: axis => { axis.ticks = depthTicks.map(v => ({ value: v })); },
                    afterFit: axis => { axis.width = 60; },
                    grid: { drawOnChartArea: false, tickLength: 3, color: "#aaa" },
                    border: { display: false },
                    title: {
                        display: true, text: "pressure", color: "#333", padding: 9,
                        font: { family: "Liberation Sans", size: 19.5, weight: "bold", style: "italic" }
                    },
                    ticks: {
                        padding: 8, color: "#333",
                        font: { family: "Liberation Sans", size: 17, weight: "bold", style: "italic" },
                        callback: v => v % 2 === 0 ? String(v) : ""
                    }
                }
            }
        },
        plugins: [fieldPlugin]
    });
}

// End caps of the colour bar
const capsPlugin = {
    id: "caps",
    afterDatasetsDraw(chart) {
        const { ctx, chartArea: a } = chart;
        const cap = (y, dir, color) => {
            ctx.fillStyle = color;
            ctx.beginPath();
            ctx.moveTo(a.left, y);
            ctx.lineTo(a.left + 5, y + dir * 3);
            ctx.lineTo(a.right - 5, y + dir * 3);
            ctx.lineTo(a.right, y);
            ctx.closePath();
            ctx.fill();
        };
        cap(a.top + 0.5, -1, "rgb(245, 180, 150)");
        cap(a.bottom - 0.5, 1, "rgb(240, 180, 240)");
    }
};

function drawColorbar(id, left, top, vmin, vmax, ticks) {
    const canvas = document.createElement("canvas");
    canvas.id = id;
    canvas.width = 44; canvas.height = 197;
    canvas.style.left = left + "px";
    canvas.style.top = top + "px";
    document.getElementById("page").appendChild(canvas);

    new Chart(canvas.getContext("2d"), {
        type: "bar",
        data: {
            labels: ["scale"],
            datasets: [{
                data: [[vmin, vmax]],
                barPercentage: 1,
                categoryPercentage: 1,
                backgroundColor: context => {
                    const chart = context.chart;
                    if (!chart.chartArea) return "#fff";
                    const g = chart.ctx.createLinearGradient(0, chart.chartArea.bottom, 0, chart.chartArea.top);
                    paletteStops.forEach(s => g.addColorStop(s[0], "rgb(" + s[1] + "," + s[2] + "," + s[3] + ")"));
                    return g;
                }
            }]
        },
        options: {
            responsive: false,
            animation: false,
            layout: { padding: { top: 8, bottom: 8, left: 0, right: 0 } },
            plugins: { legend: { display: false }, tooltip: { enabled: false } },
            scales: {
                x: { display: false },
                y: {
                    position: "right", min: vmin, max: vmax,
                    afterBuildTicks: axis => { axis.ticks = ticks.map(v => ({ value: v })); },
                    afterFit: axis => { axis.width = 28; axis.paddingTop = 0; axis.paddingBottom = 0; },
                    grid: { display: false, drawTicks: false },
                    border: { display: false },
                    ticks: {
                        padding: 5, color: "#333", autoSkip: false,
                        font: { family: "Liberation Sans", size: 15, weight: "bold", style: "italic" }
                    }
                }
            }
        },
        plugins: [capsPlugin]
    });
}

function addText(cls, text, x, y) {
    const el = document.createElement("div");
    el.className = "txt " + cls;
    el.textContent = text;
    el.style.left = x + "px";
    el.style.top = y + "px";
    document.getElementById("page").appendChild(el);
}

drawSection("tempChart", 0, 100, { grid: tempGrid, depths: tempDepths, vmin: 20, vmax: 28, contours: tempContours, labels: tempLabels });
drawSection("salChart", 628, 100, { grid: salGrid, depths: salDepths, vmin: 17, vmax: 40, contours: salContours, labels: salLabels });
drawSection("oxyChart", 0, 368, { grid: oxyGrid, depths: oxyDepths, vmin: 0, vmax: 7, contours: oxyContours, labels: oxyLabels });
drawSection("turbChart", 628, 368, { grid: turbGrid, depths: turbDepths, vmin: 0, vmax: 41, contours: turbContours, labels: turbLabels });

drawColorbar("tempBar", 538, 120, 20, 28, [20, 22, 24, 26, 28]);
drawColorbar("salBar", 1166, 120, 17, 40, [20, 25, 30, 35, 40]);
drawColorbar("oxyBar", 538, 388, 0, 7, [0, 1, 2, 3, 4, 5, 6, 7]);
drawColorbar("turbBar", 1166, 388, 0, 41, [0, 10, 20, 30, 40]);

addText("odv", "Ocean Data View", 529, 267);
addText("odv", "Ocean Data View", 1158, 267);
addText("odv", "Ocean Data View", 529, 535);
addText("odv", "Ocean Data View", 1158, 535);

addText("title", "Temperature (°C)", 295, 292);
addText("title", "Salinity", 945, 288);
addText("title", "Dissolved oxygen (mg/L)", 309, 556);
addText("title", "Turbidity (NTU)", 945, 556);

addText("place", "מעגן דיג", 184, 110);
addText("place", "יוליוס", 338, 110);
addText("place", "הסתדרות", 371, 110);
addText("place", "מעגן דיג", 810, 125);
addText("place", "יוליוס", 962, 125);
addText("place", "הסתדרות", 994, 125);

addText("lonlabel", "קו אורך (מזרח)", 296, 659);
addText("lonlabel", "קו אורך (מזרח)", 967, 659);
</script>
</body>
</html>
